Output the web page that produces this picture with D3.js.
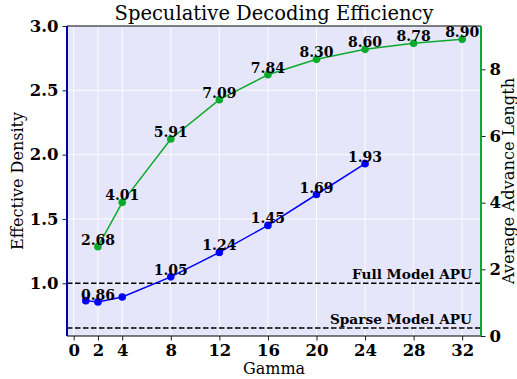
<!DOCTYPE html>
<html>
<head>
<meta charset="utf-8">
<script src="https://cdn.jsdelivr.net/npm/d3@7"></script>
<style>
  body { margin: 0; background: #fff; }
  svg { display: block; font-family: "DejaVu Serif", serif; }
</style>
</head>
<body>
<div id="chart"></div>
<script>
// data
var gammaDensity = [1, 2, 4, 8, 12, 16, 20, 24];
var density = [0.865, 0.855, 0.893, 1.05, 1.24, 1.45, 1.69, 1.93];
var densityLabels = [null, "0.86", null, "1.05", "1.24", "1.45", "1.69", "1.93"];
var gammaAdvance = [2, 4, 8, 12, 16, 20, 24, 28, 32];
var advance = [2.68, 4.01, 5.91, 7.09, 7.84, 8.30, 8.60, 8.78, 8.90];
var xTicks = [0, 2, 4, 8, 12, 16, 20, 24, 28, 32];
var leftTicks = [1.0, 1.5, 2.0, 2.5, 3.0];
var rightTicks = [0, 2, 4, 6, 8];
var refNames = ["Full Model APU", "Sparse Model APU"];
var refValues = [1.0, 0.652];

var width = 517, height = 379;
var margin = {top: 26, right: 36, bottom: 43, left: 67};
var blue = "#0000ff", green = "#0aaa2a";

var svg = d3.select("#chart").append("svg")
  .attr("width", width)
  .attr("height", height);

var w = width - margin.left - margin.right;
var h = height - margin.top - margin.bottom;

var x = d3.scaleLinear().domain([-0.55, 33.55]).range([0, w]);
var yL = d3.scaleLinear().domain([0.59, 3.0]).range([h, 0]);
var yR = d3.scaleLinear().domain([0, 9.3]).range([h, 0]);

var g = svg.append("g")
  .attr("transform", "translate(" + margin.left + "," + margin.top + ")");

g.append("rect")
  .attr("width", w)
  .attr("height", h)
  .attr("fill", "#e6e6fa");

// grid
g.selectAll(".vgrid").data(xTicks).enter().append("line")
  .attr("x1", function (d) { return x(d); })
  .attr("x2", function (d) { return x(d); })
  .attr("y1", 0).attr("y2", h)
  .attr("stroke", "#fff").attr("stroke-width", 0.9);
g.selectAll(".hgrid").data(leftTicks).enter().append("line")
  .attr("x1", 0).attr("x2", w)
  .attr("y1", function (d) { return yL(d); })
  .attr("y2", function (d) { return yL(d); })
  .attr("stroke", "#fff").attr("stroke-width", 0.9);

// reference lines
g.selectAll(".ref").data(refValues).enter().append("line")
  .attr("x1", 0).attr("x2", w)
  .attr("y1", function (d) { return yL(d); })
  .attr("y2", function (d) { return yL(d); })
  .attr("stroke", "#000").attr("stroke-width", 1.5)
  .attr("stroke-dasharray", "5.5,2.5");
g.selectAll(".refText").data(refValues).enter().append("text")
  .attr("x", w - 9)
  .attr("y", function (d) { return yL(d) - 4; })
  .attr("text-anchor", "end")
  .attr("font-size", 13.7)
  .attr("font-weight", "bold")
  .text(function (d, i) { return refNames[i]; });

// lines
var lineL = d3.line()
  .x(function (d, i) { return x(gammaDensity[i]); })
  .y(function (d) { return yL(d); });
var lineR = d3.line()
  .x(function (d, i) { return x(gammaAdvance[i]); })
  .y(function (d) { return yR(d); });

g.append("path").datum(advance)
  .attr("d", lineR).attr("fill", "none")
  .attr("stroke", green).attr("stroke-width", 1.5);
g.selectAll(".ptR").data(advance).enter().append("circle")
  .attr("cx", function (d, i) { return x(gammaAdvance[i]); })
  .attr("cy", function (d) { return yR(d); })
  .attr("r", 3.8).attr("fill", green);

g.append("path").datum(density)
  .attr("d", lineL).attr("fill", "none")
  .attr("stroke", blue).attr("stroke-width", 1.5);
g.selectAll(".ptL").data(density).enter().append("circle")
  .attr("cx", function (d, i) { return x(gammaDensity[i]); })
  .attr("cy", function (d) { return yL(d); })
  .attr("r", 3.8).attr("fill", blue);

// value labels
g.selectAll(".labR").data(advance).enter().append("text")
  .attr("x", function (d, i) { return x(gammaAdvance[i]); })
  .attr("y", function (d) { return yR(d) - 2; })
  .attr("text-anchor", "middle")
  .attr("font-size", 14).attr("font-weight", "bold")
  .text(function (d) { return d.toFixed(2); });
g.selectAll(".labL").data(density).enter().append("text")
  .attr("x", function (d, i) { return x(gammaDensity[i]); })
  .attr("y", function (d) { return yL(d) - 2; })
  .attr("text-anchor", "middle")
  .attr("font-size", 14).attr("font-weight", "bold")
  .text(function (d, i) { return densityLabels[i]; });

// axes
var xAxis = g.append("g")
  .attr("transform", "translate(0," + h + ")")
  .call(d3.axisBottom(x).tickValues(xTicks).tickSize(4.5).tickPadding(3.5));
var lAxis = g.append("g")
  .call(d3.axisLeft(yL).tickValues(leftTicks).tickFormat(d3.format(".1f")).tickSize(4.5).tickPadding(4));
var rAxis = g.append("g")
  .attr("transform", "translate(" + w + ",0)")
  .call(d3.axisRight(yR).tickValues(rightTicks).tickSize(4.5).tickPadding(4));

[xAxis, lAxis, rAxis].forEach(function (a) {
  a.select(".domain").remove();
  a.selectAll("text")
    .attr("font-family", "DejaVu Serif")
    .attr("font-size", 16.5)
    .attr("font-weight", "bold")
    .attr("fill", "#000");
  a.selectAll("line").attr("stroke", "#000").attr("stroke-width", 0.9);
});

// spines
g.append("line").attr("x1", 0).attr("x2", w).attr("y1", 0).attr("y2", 0)
  .attr("stroke", "#000").attr("stroke-width", 1.2);
g.append("line").attr("x1", 0).attr("x2", w).attr("y1", h).attr("y2", h)
  .attr("stroke", "#000").attr("stroke-width", 1.2);
g.append("line").attr("x1", 0).attr("x2", 0).attr("y1", 0).attr("y2", h)
  .attr("stroke", "#0000a8").attr("stroke-width", 2);
g.append("line").attr("x1", w).attr("x2", w).attr("y1", 0).attr("y2", h)
  .attr("stroke", green).attr("stroke-width", 2);

// titles
svg.append("text")
  .attr("x", margin.left + w / 2).attr("y", 20)
  .attr("text-anchor", "middle").attr("font-size", 19.5)
  .text("Speculative Decoding Efficiency");
svg.append("text")
  .attr("x", margin.left + w / 2).attr("y", 374)
  .attr("text-anchor", "middle").attr("font-size", 16)
  .text("Gamma");
svg.append("text")
  .attr("transform", "translate(23," + (margin.top + h / 2) + ") rotate(-90)")
  .attr("text-anchor", "middle").attr("font-size", 16)
  .text("Effective Density");
svg.append("text")
  .attr("transform", "translate(513.5," + (margin.top + h / 2) + ") rotate(-90)")
  .attr("text-anchor", "middle").attr("font-size", 16.3)
  .text("Average Advance Length");
</script>
</body>
</html>
